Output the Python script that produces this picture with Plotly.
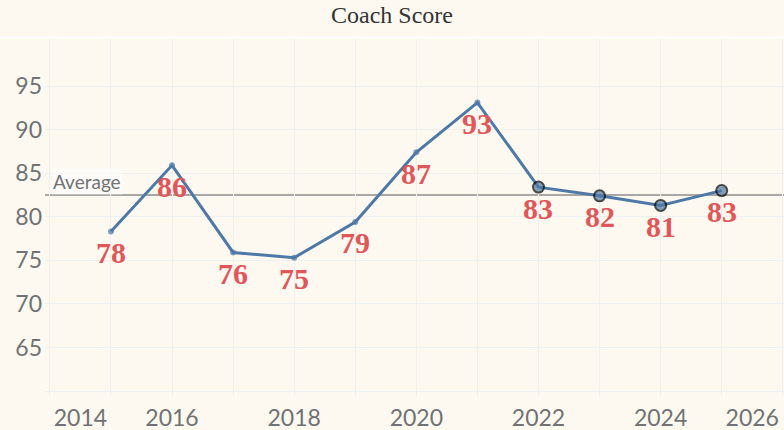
import plotly.graph_objects as go

# Coach score per season
years = [2015, 2016, 2017, 2018, 2019, 2020, 2021, 2022, 2023, 2024, 2025]
scores = [78.3, 85.9, 75.9, 75.3, 79.4, 87.4, 93.1, 83.4, 82.4, 81.3, 83.0]
average_score = 82.5
highlight_from = 2022

y_ticks = [65, 70, 75, 80, 85, 90, 95]
x_tick_vals = [2014.5, 2016, 2018, 2020, 2022, 2024, 2025.5]
x_tick_text = ["2014", "2016", "2018", "2020", "2022", "2024", "2026"]

BG = "#fdf9f1"
GRID = "#eef0f0"
BLUE = "#4e79a7"
RED = "#e15759"
TICK_FONT = dict(family="Lato", size=23, color="#707274")

big = [y >= highlight_from for y in years]

fig = go.Figure()

# average reference line
fig.add_hline(y=average_score, line=dict(color="#a9a8a4", width=2), layer="below")

fig.add_trace(go.Scatter(
    x=years, y=scores, mode="lines+markers",
    line=dict(color=BLUE, width=3),
    marker=dict(
        color=BLUE,
        size=[11 if b else 6 for b in big],
        line=dict(color=["#000000" if b else BLUE for b in big],
                  width=[2 if b else 0 for b in big]),
    ),
    hoverinfo="x+y", showlegend=False,
))

# value labels under each point
for x, v in zip(years, scores):
    fig.add_annotation(
        x=x, y=v, text=str(round(v)), showarrow=False, yshift=-21,
        font=dict(family="Liberation Serif", size=30, color=RED, weight="bold"),
    )

fig.add_annotation(
    xref="paper", x=0.008, y=average_score, yanchor="bottom", xanchor="left",
    text="Average", showarrow=False, bgcolor="rgba(255,255,255,0.55)",
    borderpad=1, font=dict(family="Lato", size=19, color="#707274"),
)

# thin white rule under the title
fig.add_shape(type="line", xref="paper", yref="paper",
              x0=-0.07, x1=1, y0=1.004, y1=1.004,
              line=dict(color="#ffffff", width=2))

fig.update_layout(
    width=784, height=430,
    margin=dict(l=45, r=0, t=39, b=39),
    paper_bgcolor=BG, plot_bgcolor=BG,
    title=dict(text="Coach Score", x=0.5, xref="container", xanchor="center",
               y=0.965, yanchor="middle",
               font=dict(family="Liberation Serif", size=24, color="#333333")),
)

fig.update_xaxes(
    range=[2013.92, 2026.02],
    tickvals=x_tick_vals, ticktext=x_tick_text, tickfont=TICK_FONT,
    showgrid=False, zeroline=False, ticks="",
    showline=True, linecolor=GRID, linewidth=1,
    minor=dict(tick0=2014, dtick=1, showgrid=True, gridcolor=GRID,
               ticks="outside", ticklen=4, tickcolor=GRID),
    ticklabelstandoff=6,
)
fig.update_yaxes(
    range=[60, 100.4],
    tickvals=y_ticks, tickfont=TICK_FONT,
    showgrid=True, gridcolor=GRID, zeroline=False,
    ticks="", ticklabelstandoff=2,
)

fig.write_html("out.html", config={"displayModeBar": False},
               post_script="document.body.style.margin='0';")
